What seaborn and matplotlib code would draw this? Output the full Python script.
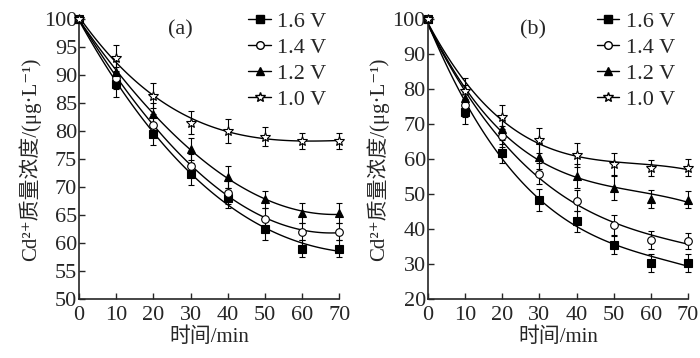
import numpy as np
import pandas as pd
import matplotlib
matplotlib.use("Agg")
import matplotlib.pyplot as plt
from matplotlib.lines import Line2D
import seaborn as sns

# time points (min)
time_min = [0, 10, 20, 30, 40, 50, 60, 70]
voltages = ["1.6 V", "1.4 V", "1.2 V", "1.0 V"]

# panel (a) Cd2+ concentration, ug/L
a_16 = [100, 88.3, 79.5, 72.3, 68.0, 62.5, 59.0, 59.0]
a_14 = [100, 89.5, 81.0, 73.8, 69.0, 64.3, 62.0, 62.0]
a_12 = [100, 90.5, 83.0, 76.8, 71.8, 67.8, 65.3, 65.3]
a_10 = [100, 93.0, 86.3, 81.5, 80.0, 79.0, 78.2, 78.2]
a_16_err = [0, 2.2, 2.0, 2.0, 1.8, 2.0, 1.5, 1.5]
a_14_err = [0, 2.0, 2.0, 2.0, 2.0, 2.0, 1.5, 1.5]
a_12_err = [0, 2.0, 2.0, 2.0, 2.0, 1.5, 1.8, 1.8]
a_10_err = [0, 2.3, 2.2, 2.1, 2.2, 1.7, 1.5, 1.5]

# panel (b)
b_16 = [100, 73.5, 61.6, 48.3, 42.2, 35.5, 30.3, 30.3]
b_14 = [100, 75.5, 66.5, 55.8, 48.0, 41.0, 36.8, 36.6]
b_12 = [100, 77.5, 68.5, 60.7, 55.2, 51.7, 48.6, 48.4]
b_10 = [100, 79.5, 72.0, 65.3, 61.2, 58.6, 57.5, 57.5]
b_16_err = [0, 3.5, 2.8, 3.2, 3.0, 2.8, 2.5, 2.5]
b_14_err = [0, 3.5, 3.0, 3.0, 3.0, 3.0, 2.5, 2.2]
b_12_err = [0, 3.5, 3.2, 3.5, 3.5, 3.5, 2.5, 2.5]
b_10_err = [0, 3.5, 3.5, 3.5, 3.5, 3.2, 2.3, 2.5]

sns.set_style("ticks")
plt.rcParams['font.family'] = ['Liberation Serif', 'Noto Sans CJK SC', 'DejaVu Serif']

markers = ['s', 'o', '^', '*']
faces = ['black', 'white', 'black', 'white']
msizes = [5.5, 5.5, 6, 7]

fig, axes = plt.subplots(1, 2, figsize=(7, 3.58), dpi=100)

panels = [
    (axes[0], "(a)", 0.39, [a_16, a_14, a_12, a_10], [a_16_err, a_14_err, a_12_err, a_10_err], (50, 100), 5),
    (axes[1], "(b)", 0.405, [b_16, b_14, b_12, b_10], [b_16_err, b_14_err, b_12_err, b_10_err], (20, 100), 10),
]

for ax, tag, tag_x, series, errs, ylim, ystep in panels:
    for i, (vals, err) in enumerate(zip(series, errs)):
        df = pd.DataFrame({"t": time_min, "c": vals})
        # smooth fitted curve through the measured points
        sns.regplot(data=df, x="t", y="c", order=3, ci=None, scatter=False, ax=ax,
                    line_kws=dict(color="black", lw=1.0))
        ax.errorbar(time_min, vals, yerr=err, fmt=markers[i], color="black",
                    mfc=faces[i], mec="black", ms=msizes[i], mew=0.8,
                    elinewidth=0.8, capsize=2, capthick=0.8, clip_on=False, zorder=5)
    ax.set_xlim(0, 70)
    ax.set_ylim(*ylim)
    ax.set_xticks(range(0, 71, 10))
    ax.set_yticks(range(ylim[0], ylim[1] + 1, ystep))
    ax.tick_params(direction="in", length=4, width=1, labelsize=16, pad=1.5)
    ax.tick_params(axis="x", pad=5)
    ax.spines[["top", "right"]].set_visible(False)
    for s in ["left", "bottom"]:
        ax.spines[s].set_linewidth(1.2)
    ax.set_xlabel("时间/min", fontsize=15, labelpad=2)
    ax.set_ylabel("Cd²⁺质量浓度/(μg·L⁻¹)", fontsize=15, labelpad=2)
    ax.text(tag_x, 0.96, tag, transform=ax.transAxes, fontsize=16, ha="center", va="center")
    handles = [Line2D([], [], color="black", lw=1, marker=markers[i], mfc=faces[i],
                      mec="black", ms=msizes[i]) for i in range(4)]
    ax.legend(handles, voltages, loc="upper right", bbox_to_anchor=(0.985, 1.06), frameon=False,
              fontsize=16, handlelength=1.0, handletextpad=0.3, labelspacing=0.25, borderaxespad=0)

fig.subplots_adjust(left=0.113, right=0.983, top=0.947, bottom=0.165, wspace=0.34)
fig.savefig("out.png", dpi=100)
